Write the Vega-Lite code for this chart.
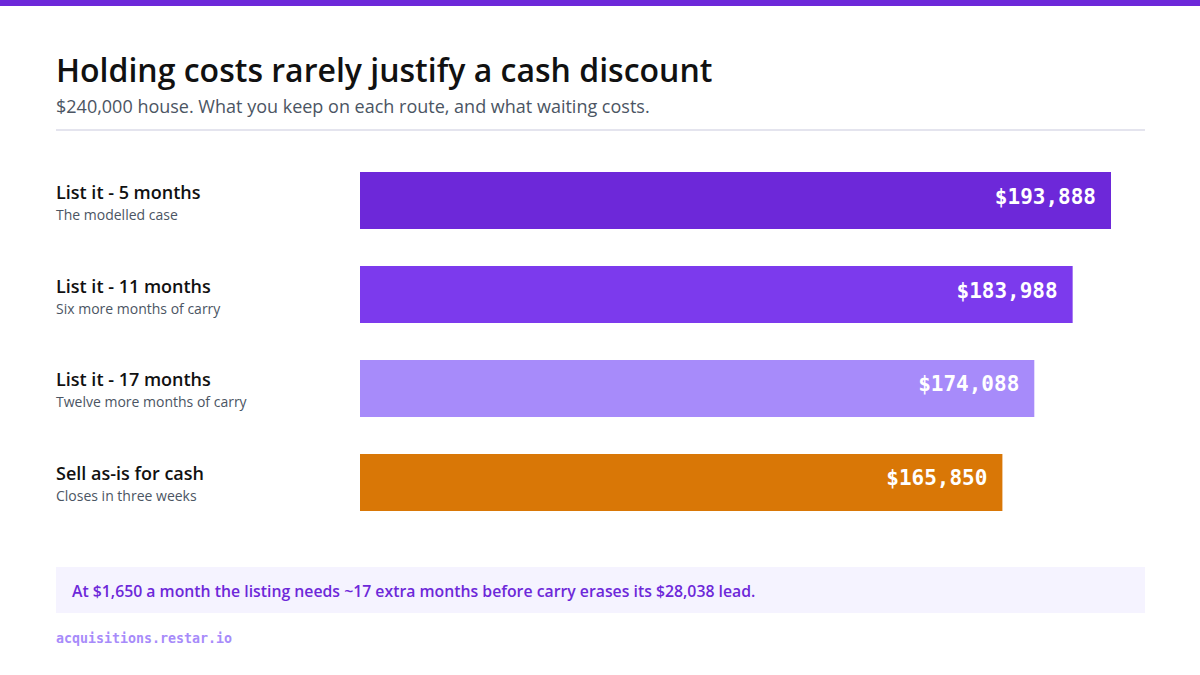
{
  "$schema": "https://vega.github.io/schema/vega-lite/v6.json",
  "background": "#ffffff",
  "padding": 0,
  "spacing": 0,
  "config": {
    "view": {"stroke": null},
    "font": "Open Sans",
    "concat": {"spacing": 0}
  },
  "datasets": {
    "routes": [
      {"route": "List it - 5 months", "note": "The modelled case", "kept": 193888},
      {"route": "List it - 11 months", "note": "Six more months of carry", "kept": 183988},
      {"route": "List it - 17 months", "note": "Twelve more months of carry", "kept": 174088},
      {"route": "Sell as-is for cash", "note": "Closes in three weeks", "kept": 165850}
    ],
    "blank": [{}]
  },
  "vconcat": [
    {
      "width": 1200,
      "height": 131,
      "data": {"name": "blank"},
      "layer": [
        {
          "mark": {"type": "rect", "color": "#6D28D9"},
          "encoding": {"x": {"value": 0}, "x2": {"value": 1200}, "y": {"value": 0}, "y2": {"value": 6}}
        },
        {
          "mark": {"type": "text", "text": "Holding costs rarely justify a cash discount", "align": "left", "baseline": "alphabetic", "fontSize": 32, "fontWeight": 600, "color": "#111111"},
          "encoding": {"x": {"value": 56}, "y": {"value": 82}}
        },
        {
          "mark": {"type": "text", "text": "$240,000 house. What you keep on each route, and what waiting costs.", "align": "left", "baseline": "alphabetic", "fontSize": 18, "color": "#4B5563"},
          "encoding": {"x": {"value": 56}, "y": {"value": 113}}
        },
        {
          "mark": {"type": "rule", "color": "#E4E4EE", "strokeWidth": 2},
          "encoding": {"x": {"value": 56}, "x2": {"value": 1145}, "y": {"value": 130}}
        }
      ]
    },
    {
      "hconcat": [
        {
          "width": 360,
          "height": 421,
          "data": {"name": "routes"},
          "encoding": {
            "y": {"field": "route", "type": "nominal", "sort": null, "axis": null, "scale": {"type": "band", "paddingInner": 0.392, "paddingOuter": 0.436}},
            "x": {"value": 56}
          },
          "layer": [
            {
              "mark": {"type": "text", "align": "left", "baseline": "alphabetic", "dy": -2, "fontSize": 18, "fontWeight": 600, "color": "#111111"},
              "encoding": {"text": {"field": "route"}}
            },
            {
              "mark": {"type": "text", "align": "left", "baseline": "alphabetic", "dy": 19, "fontSize": 14, "color": "#4B5563"},
              "encoding": {"text": {"field": "note"}}
            }
          ]
        },
        {
          "width": 751,
          "height": 421,
          "data": {"name": "routes"},
          "encoding": {
            "y": {"field": "route", "type": "nominal", "sort": null, "axis": null, "scale": {"type": "band", "paddingInner": 0.392, "paddingOuter": 0.436}},
            "x": {"field": "kept", "type": "quantitative", "axis": null, "scale": {"domain": [0, 193888], "nice": false, "zero": true}}
          },
          "layer": [
            {
              "mark": {"type": "bar"},
              "encoding": {
                "color": {
                  "field": "route",
                  "type": "nominal",
                  "legend": null,
                  "scale": {
                    "domain": ["List it - 5 months", "List it - 11 months", "List it - 17 months", "Sell as-is for cash"],
                    "range": ["#6D28D9", "#7C3AED", "#A78BFA", "#D97706"]
                  }
                }
              }
            },
            {
              "mark": {"type": "text", "align": "right", "baseline": "middle", "dx": -15, "dy": -3, "font": "DejaVu Sans Mono", "fontSize": 21, "fontWeight": "bold", "color": "#ffffff"},
              "encoding": {"text": {"field": "kept", "type": "quantitative", "format": "$,.0f"}}
            }
          ]
        }
      ]
    },
    {
      "width": 1200,
      "height": 73,
      "data": {"name": "blank"},
      "layer": [
        {
          "mark": {"type": "rect", "color": "#F5F3FF"},
          "encoding": {"x": {"value": 56}, "x2": {"value": 1145}, "y": {"value": 15}, "y2": {"value": 61}}
        },
        {
          "mark": {"type": "text", "text": "At $1,650 a month the listing needs ~17 extra months before carry erases its $28,038 lead.", "align": "left", "baseline": "middle", "fontSize": 15.8, "fontWeight": 600, "color": "#6D28D9"},
          "encoding": {"x": {"value": 72}, "y": {"value": 40}}
        }
      ]
    },
    {
      "width": 1200,
      "height": 50,
      "data": {"name": "blank"},
      "mark": {"type": "text", "text": "acquisitions.restar.io", "align": "left", "baseline": "alphabetic", "font": "DejaVu Sans Mono", "fontSize": 13.3, "fontWeight": "bold", "color": "#A78BFA"},
      "encoding": {"x": {"value": 56}, "y": {"value": 18}}
    }
  ]
}
